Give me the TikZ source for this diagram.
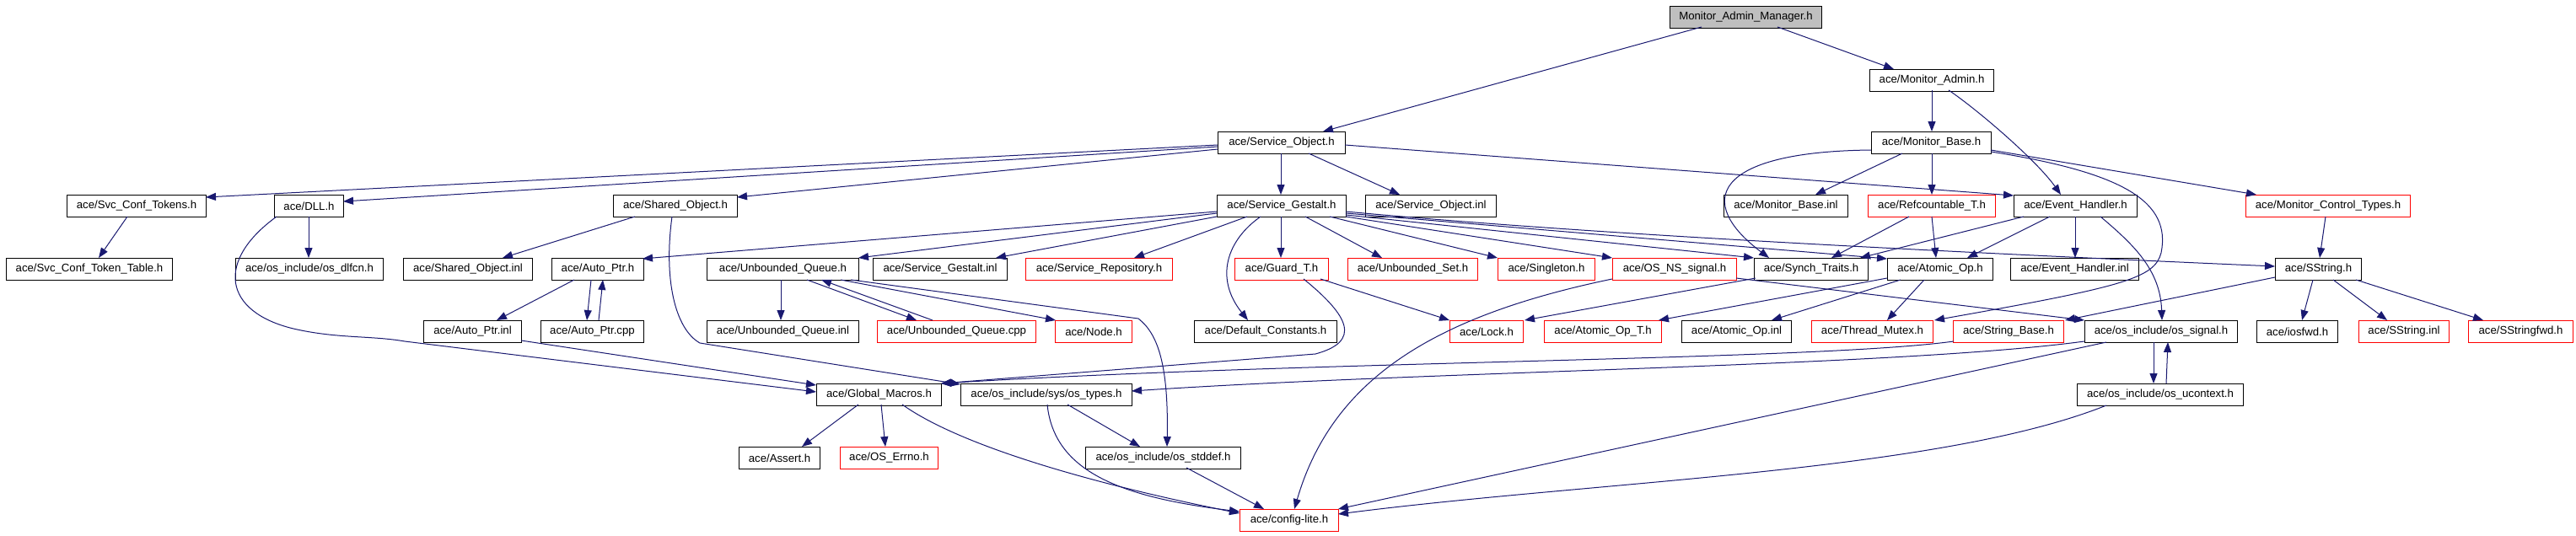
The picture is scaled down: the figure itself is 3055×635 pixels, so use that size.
\documentclass[tikz,border=0pt]{standalone}
\usepackage{fontspec}
\setmainfont{Liberation Sans}
\usetikzlibrary{arrows.meta}
\definecolor{edgeblue}{HTML}{191970}
\definecolor{rootgrey}{HTML}{BFBFBF}
\begin{document}
\begin{tikzpicture}[x=1pt,y=-1pt,
  box/.style={draw=black,line width=1pt,anchor=north west,minimum height=26pt,inner sep=0pt,font=\fontsize{13.2}{15}\selectfont,text=black},
  redbox/.style={box,draw=red},
  rootbox/.style={box,fill=rootgrey},
  edge/.style={draw=edgeblue,line width=1pt,-{Triangle[length=12pt,width=9pt]}}]
\useasboundingbox (0,0) rectangle (3055,635);
% row 0
\node[rootbox,minimum width=180pt] (root) at (1980,7) {Monitor\_Admin\_Manager.h};
% row 1
\node[box,minimum width=147pt] (ma) at (2217,82) {ace/Monitor\_Admin.h};
% row 2
\node[box,minimum width=151pt] (so) at (1444,156) {ace/Service\_Object.h};
\node[box,minimum width=142pt] (mb) at (2219,156) {ace/Monitor\_Base.h};
% row 3
\node[box,minimum width=165pt] (sct) at (79,231) {ace/Svc\_Conf\_Tokens.h};
\node[box,minimum width=82pt] (dll) at (325,231) {ace/DLL.h};
\node[box,minimum width=147pt] (sho) at (727,231) {ace/Shared\_Object.h};
\node[box,minimum width=153pt] (sg) at (1443,231) {ace/Service\_Gestalt.h};
\node[box,minimum width=155pt] (soi) at (1619,231) {ace/Service\_Object.inl};
\node[box,minimum width=147pt] (mbi) at (2044,231) {ace/Monitor\_Base.inl};
\node[redbox,minimum width=151pt] (rct) at (2215,231) {ace/Refcountable\_T.h};
\node[box,minimum width=146pt] (eh) at (2388,231) {ace/Event\_Handler.h};
\node[redbox,minimum width=195pt] (mct) at (2663,231) {ace/Monitor\_Control\_Types.h};
% row 4
\node[box,minimum width=197pt] (sctt) at (7,306) {ace/Svc\_Conf\_Token\_Table.h};
\node[box,minimum width=175pt] (dlfcn) at (279,306) {ace/os\_include/os\_dlfcn.h};
\node[box,minimum width=153pt] (shoi) at (478,306) {ace/Shared\_Object.inl};
\node[box,minimum width=109pt] (ap) at (654,306) {ace/Auto\_Ptr.h};
\node[box,minimum width=180pt] (uq) at (838,306) {ace/Unbounded\_Queue.h};
\node[box,minimum width=159pt] (sgi) at (1035,306) {ace/Service\_Gestalt.inl};
\node[redbox,minimum width=174pt] (sr) at (1216,306) {ace/Service\_Repository.h};
\node[redbox,minimum width=111pt] (gt) at (1464,306) {ace/Guard\_T.h};
\node[redbox,minimum width=154pt] (us) at (1598,306) {ace/Unbounded\_Set.h};
\node[redbox,minimum width=115pt] (sgl) at (1776,306) {ace/Singleton.h};
\node[redbox,minimum width=147pt] (nss) at (1912,306) {ace/OS\_NS\_signal.h};
\node[box,minimum width=135pt] (st) at (2080,306) {ace/Synch\_Traits.h};
\node[box,minimum width=125pt] (ao) at (2238,306) {ace/Atomic\_Op.h};
\node[box,minimum width=152pt] (ehi) at (2384,306) {ace/Event\_Handler.inl};
\node[box,minimum width=102pt] (ss) at (2698,306) {ace/SString.h};
% row 5
\node[box,minimum width=116pt] (api) at (502,380) {ace/Auto\_Ptr.inl};
\node[box,minimum width=122pt] (apc) at (641,380) {ace/Auto\_Ptr.cpp};
\node[box,minimum width=180pt] (uqi) at (838,380) {ace/Unbounded\_Queue.inl};
\node[redbox,minimum width=188pt] (uqc) at (1040,380) {ace/Unbounded\_Queue.cpp};
\node[redbox,minimum width=91pt] (nd) at (1251,380) {ace/Node.h};
\node[box,minimum width=169pt] (dc) at (1416,380) {ace/Default\_Constants.h};
\node[redbox,minimum width=87pt] (lk) at (1719,380) {ace/Lock.h};
\node[redbox,minimum width=139pt] (aot) at (1831,380) {ace/Atomic\_Op\_T.h};
\node[box,minimum width=130pt] (aoi) at (1994,380) {ace/Atomic\_Op.inl};
\node[redbox,minimum width=144pt] (tm) at (2148,380) {ace/Thread\_Mutex.h};
\node[redbox,minimum width=131pt] (sb) at (2316,380) {ace/String\_Base.h};
\node[box,minimum width=181pt] (sig) at (2472,380) {ace/os\_include/os\_signal.h};
\node[box,minimum width=96pt] (ios) at (2676,380) {ace/iosfwd.h};
\node[redbox,minimum width=107pt] (ssi) at (2797,380) {ace/SString.inl};
\node[redbox,minimum width=124pt] (ssf) at (2927,380) {ace/SStringfwd.h};
% row 6
\node[box,minimum width=148pt] (gm) at (968,455) {ace/Global\_Macros.h};
\node[box,minimum width=203pt] (ost) at (1139,455) {ace/os\_include/sys/os\_types.h};
\node[box,minimum width=197pt] (uc) at (2463,455) {ace/os\_include/os\_ucontext.h};
% row 7
\node[box,minimum width=96pt] (as) at (876,530) {ace/Assert.h};
\node[redbox,minimum width=116pt] (err) at (996,530) {ace/OS\_Errno.h};
\node[box,minimum width=184pt] (std) at (1287,530) {ace/os\_include/os\_stddef.h};
% row 8
\node[redbox,minimum width=117pt] (cfg) at (1470,604) {ace/config-lite.h};

% edges
\draw[edge] ([shift={(38,25)}]root.north west) -- ([shift={(125,0)}]so.north west);
\draw[edge] ([shift={(128,25)}]root.north west) -- ([shift={(29,0)}]ma.north west);
\draw[edge] ([shift={(74,25)}]ma.north west) -- ([shift={(72,0)}]mb.north west);
\draw[edge] ([shift={(94,25)}]ma.north west) .. controls (2345,130) and (2415,190) .. ([shift={(56,0)}]eh.north west);
\draw[edge] ([shift={(0,16)}]so.north west) -- ([shift={(165,3)}]sct.north west);
\draw[edge] ([shift={(0,18)}]so.north west) -- ([shift={(82,8)}]dll.north west);
\draw[edge] ([shift={(0,21)}]so.north west) -- ([shift={(147,3)}]sho.north west);
\draw[edge] ([shift={(75,26)}]so.north west) -- ([shift={(76,0)}]sg.north west);
\draw[edge] ([shift={(108,26)}]so.north west) -- ([shift={(41,0)}]soi.north west);
\draw[edge] ([shift={(151,16)}]so.north west) -- ([shift={(0,1)}]eh.north west);
\draw[edge] ([shift={(37,26)}]mb.north west) -- ([shift={(109,0)}]mbi.north west);
\draw[edge] ([shift={(72,26)}]mb.north west) -- ([shift={(76,0)}]rct.north west);
\draw[edge] ([shift={(0,22)}]mb.north west) .. controls (2030,180) and (2010,240) .. ([shift={(18,0)}]st.north west);
\draw[edge] ([shift={(142,22)}]mb.north west) -- ([shift={(13,0)}]mct.north west);
\draw[edge] ([shift={(142,24)}]mb.north west) .. controls (2520,205) and (2575,240) .. (2563,300) .. controls (2555,330) and (2520,340) .. ([shift={(146,0)}]tm.north west);
\draw[edge] ([shift={(12,26)}]eh.north west) -- ([shift={(126,0)}]st.north west);
\draw[edge] ([shift={(43,26)}]eh.north west) -- ([shift={(95,0)}]ao.north west);
\draw[edge] ([shift={(73,26)}]eh.north west) -- ([shift={(77,0)}]ehi.north west);
\draw[edge] ([shift={(103,26)}]eh.north west) .. controls (2530,290) and (2562,320) .. ([shift={(92,0)}]sig.north west);
\draw[edge] ([shift={(49,26)}]rct.north west) -- ([shift={(92,0)}]st.north west);
\draw[edge] ([shift={(76,26)}]rct.north west) -- ([shift={(58,0)}]ao.north west);
\draw[edge] ([shift={(95,26)}]mct.north west) -- ([shift={(53,0)}]ss.north west);
\draw[edge] ([shift={(72,26)}]sct.north west) -- ([shift={(110,0)}]sctt.north west);
\draw[edge] ([shift={(41,26)}]dll.north west) -- ([shift={(87,0)}]dlfcn.north west);
\draw[edge] ([shift={(3,26)}]dll.north west) .. controls (255,310) and (265,370) .. (348,390) .. controls (400,402) and (440,398) .. (480,405) -- ([shift={(0,10)}]gm.north west);
\draw[edge] ([shift={(26,26)}]sho.north west) -- ([shift={(118,0)}]shoi.north west);
\draw[edge] ([shift={(70,26)}]sho.north west) .. controls (787,330) and (800,390) .. (830,407) -- ([shift={(0,1)}]ost.north west);
\draw[edge] ([shift={(27,26)}]ap.north west) -- ([shift={(87,0)}]api.north west);
\draw[edge] ([shift={(47,26)}]ap.north west) -- ([shift={(55,0)}]apc.north west);
\draw[edge] ([shift={(69,0)}]apc.north west) -- ([shift={(61,26)}]ap.north west);
\draw[edge] ([shift={(116,24)}]api.north west) -- ([shift={(0,2)}]gm.north west);
\draw[edge] ([shift={(88,26)}]uq.north west) -- ([shift={(88,0)}]uqi.north west);
\draw[edge] ([shift={(119,26)}]uq.north west) -- ([shift={(47,0)}]uqc.north west);
\draw[edge] ([shift={(66,0)}]uqc.north west) -- ([shift={(136,26)}]uq.north west);
\draw[edge] ([shift={(159,26)}]uq.north west) -- ([shift={(1,0)}]nd.north west);
\draw[edge] ([shift={(171,26)}]uq.north west) -- (1350,378) .. controls (1372,395) and (1386,430) .. ([shift={(97,0)}]std.north west);
\draw[edge] ([shift={(0,20)}]sg.north west) -- ([shift={(108,1)}]ap.north west);
\draw[edge] ([shift={(0,22)}]sg.north west) -- ([shift={(180,0)}]uq.north west);
\draw[edge] ([shift={(0,26)}]sg.north west) -- ([shift={(146,0)}]sgi.north west);
\draw[edge] ([shift={(36,26)}]sg.north west) -- ([shift={(129,0)}]sr.north west);
\draw[edge] ([shift={(52,26)}]sg.north west) .. controls (1455,285) and (1440,330) .. ([shift={(64,0)}]dc.north west);
\draw[edge] ([shift={(76,26)}]sg.north west) -- ([shift={(55,0)}]gt.north west);
\draw[edge] ([shift={(105,26)}]sg.north west) -- ([shift={(41,0)}]us.north west);
\draw[edge] ([shift={(134,26)}]sg.north west) -- ([shift={(0,0)}]sgl.north west);
\draw[edge] ([shift={(153,26)}]sg.north west) -- ([shift={(0,0)}]nss.north west);
\draw[edge] ([shift={(153,24)}]sg.north west) -- ([shift={(0,0)}]st.north west);
\draw[edge] ([shift={(153,22)}]sg.north west) -- ([shift={(0,1)}]ao.north west);
\draw[edge] ([shift={(153,20)}]sg.north west) .. controls (1800,270) and (2100,290) .. ([shift={(0,10)}]ss.north west);
\draw[edge] ([shift={(102,25)}]gt.north west) -- ([shift={(0,0)}]lk.north west);
\draw[edge] ([shift={(82,25)}]gt.north west) .. controls (1600,375) and (1615,405) .. (1560,420) -- ([shift={(148,0)}]gm.north west);
\draw[edge] ([shift={(0,25)}]nss.north west) .. controls (1700,375) and (1580,450) .. ([shift={(65,0)}]cfg.north west);
\draw[edge] ([shift={(147,24)}]nss.north west) -- ([shift={(0,0)}]sig.north west);
\draw[edge] ([shift={(2,24)}]st.north west) -- ([shift={(89,0)}]lk.north west);
\draw[edge] ([shift={(0,24)}]ao.north west) -- ([shift={(136,0)}]aot.north west);
\draw[edge] ([shift={(16,26)}]ao.north west) -- ([shift={(107,0)}]aoi.north west);
\draw[edge] ([shift={(44,26)}]ao.north west) -- ([shift={(90,0)}]tm.north west);
\draw[edge] ([shift={(0,23)}]ss.north west) -- ([shift={(133,0)}]sb.north west);
\draw[edge] ([shift={(45,26)}]ss.north west) -- ([shift={(54,0)}]ios.north west);
\draw[edge] ([shift={(69,26)}]ss.north west) -- ([shift={(34,0)}]ssi.north west);
\draw[edge] ([shift={(96,26)}]ss.north west) -- ([shift={(18,0)}]ssf.north west);
\draw[edge] ([shift={(82,26)}]sig.north west) -- ([shift={(91,0)}]uc.north west);
\draw[edge] ([shift={(106,0)}]uc.north west) -- ([shift={(99,26)}]sig.north west);
\draw[edge] ([shift={(0,25)}]sig.north west) .. controls (2250,435) and (1700,440) .. ([shift={(203,9)}]ost.north west);
\draw[edge] ([shift={(26,26)}]sig.north west) -- ([shift={(117,0)}]cfg.north west);
\draw[edge] ([shift={(35,26)}]uc.north west) .. controls (2300,560) and (1900,570) .. ([shift={(117,6)}]cfg.north west);
\draw[edge] ([shift={(1,25)}]sb.north west) .. controls (2150,428) and (1550,428) .. ([shift={(148,0)}]gm.north west);
\draw[edge] ([shift={(50,25)}]gm.north west) -- ([shift={(75,0)}]as.north west);
\draw[edge] ([shift={(77,25)}]gm.north west) -- ([shift={(54,0)}]err.north west);
\draw[edge] ([shift={(102,25)}]gm.north west) .. controls (1140,530) and (1300,575) .. ([shift={(0,5)}]cfg.north west);
\draw[edge] ([shift={(127,25)}]ost.north west) -- ([shift={(65,0)}]std.north west);
\draw[edge] ([shift={(103,25)}]ost.north west) .. controls (1250,560) and (1330,590) .. ([shift={(0,3)}]cfg.north west);
\draw[edge] ([shift={(120,25)}]std.north west) -- ([shift={(29,0)}]cfg.north west);
\end{tikzpicture}
\end{document}
